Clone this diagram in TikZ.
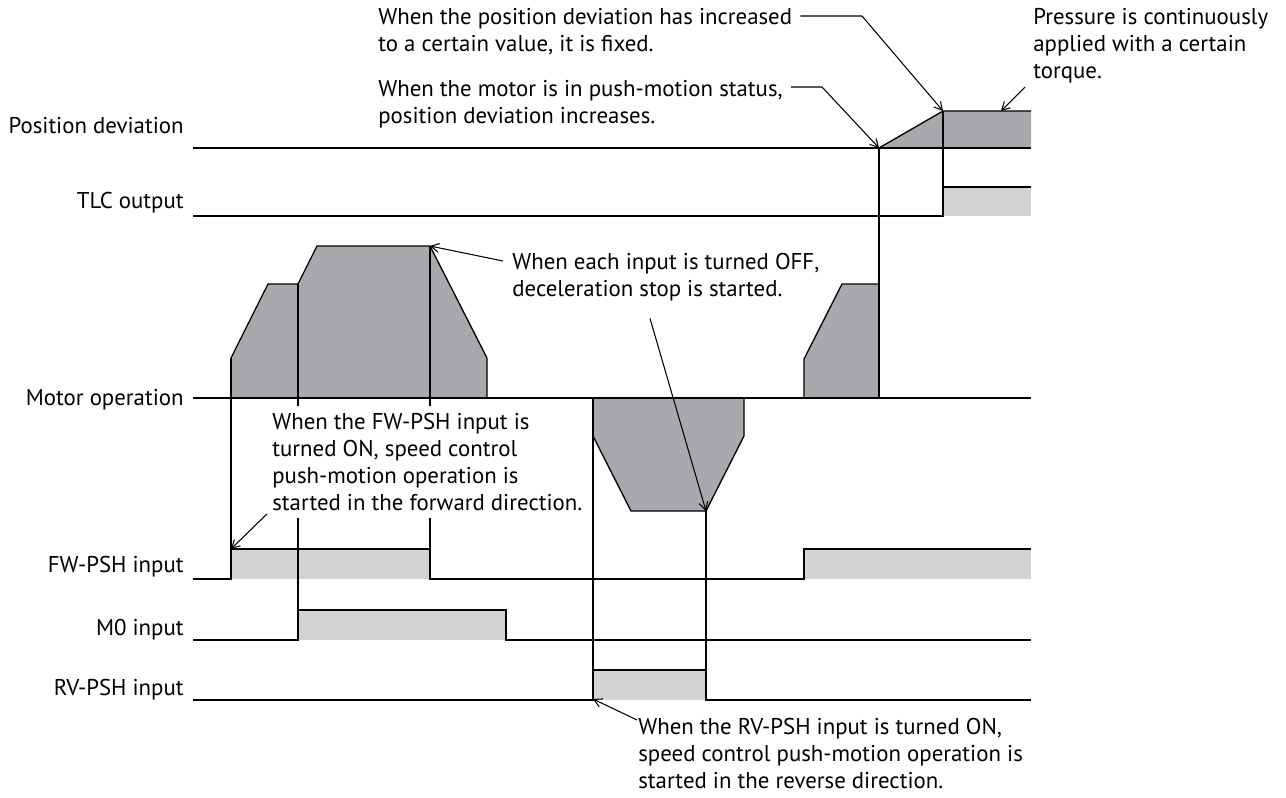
\documentclass[tikz,border=0pt]{standalone}
\usepackage{fontspec}
\setmainfont{PT Sans}
\definecolor{pgdark}{HTML}{A7A9AC}
\definecolor{pglight}{HTML}{D1D3D4}
\usetikzlibrary{arrows.meta,calc}

\begin{document}
\begin{tikzpicture}[x=0.02cm, y=-0.02cm,
  wave/.style={line width=0.75pt},
  vline/.style={line width=0.6pt},
  lead/.style={line width=0.6pt, -{Straight Barb[length=4.5pt,width=5pt]}},
  sig/.style={font=\fontsize{13}{15.3}\selectfont, anchor=base east, inner sep=0pt},
  note/.style={font=\fontsize{13}{15.3}\selectfont, align=left, anchor=north west, inner sep=0pt}]
  \useasboundingbox (0,0) rectangle (1286,798);

  %--- Signal names ---
  \node[sig] (lpos) at (184,133) {Position deviation};
  \node[sig] (ltlc) at (184,208) {TLC output};
  \node[sig] (lmot) at (184,405) {Motor operation};
  \node[sig] (lfw) at (184,572) {FW-PSH input};
  \node[sig] (lmz) at (184,635) {M0 input};
  \node[sig] (lrv) at (184,695) {RV-PSH input};

  % Key points
  \coordinate (pdstart) at (879,148);
  \coordinate (pdtop) at (943,111);
  \coordinate (pdhold) at (1001,111);
  \coordinate (mtop) at (430,246);
  \coordinate (rvbot) at (706,511);
  \coordinate (fwon) at (231,549);
  \coordinate (rvon) at (593,699);

  % Position deviation
  \fill[pgdark] (879,148) -- (943,111) -- (1031,111) -- (1031,148) -- cycle;
  \draw[wave] (193,148) -- (1031,148);
  \draw[wave] (879,148) -- (943,111) -- (1031,111);

  % TLC output
  \fill[pglight] (943,187) rectangle (1031,216);
  \draw[wave] (193,216) -- (943,216) -- (943,187) -- (1031,187);

  % Motor operation
  \filldraw[wave, fill=pgdark] (231,398) -- (231,358) -- (268,284) -- (298,284) -- (317,246)
    -- (430,246) -- (487,358) -- (487,398) -- cycle;
  \filldraw[wave, fill=pgdark] (593,398) -- (593,436) -- (631,511) -- (706,511) -- (744,436)
    -- (744,398) -- cycle;
  \filldraw[wave, fill=pgdark] (804,398) -- (804,359) -- (842,284) -- (879,284) -- (879,398) -- cycle;
  \draw[wave] (193,398) -- (1031,398);

  % FW-PSH input
  \fill[pglight] (231,549) rectangle (430,579);
  \fill[pglight] (804,549) rectangle (1031,579);
  \draw[wave] (193,579) -- (231,579) -- (231,549) -- (430,549) -- (430,579) -- (804,579)
    -- (804,549) -- (1031,549);

  % M0 input
  \fill[pglight] (298,610) rectangle (506,640);
  \draw[wave] (193,640) -- (298,640) -- (298,610) -- (506,610) -- (506,640) -- (1031,640);

  % RV-PSH input
  \fill[pglight] (593,670) rectangle (706,700);
  \draw[wave] (193,700) -- (593,700) -- (593,670) -- (706,670) -- (706,700) -- (1031,700);

  % Timing lines
  \draw[vline] (879,148) -- (879,398);
  \draw[vline] (943,111) -- (943,216);
  \draw[vline] (231,358) -- (231,579);
  \draw[vline] (298,284) -- (298,640);
  \draw[vline] (430,246) -- (430,579);
  \draw[vline] (593,398) -- (593,700);
  \draw[vline] (706,511) -- (706,700);

  %--- Notes ---
  \node[note] (nfix) at (378,8) {When the position deviation has increased\\to a certain value, it is fixed.};
  \node[note] (npush) at (378,80) {When the motor is in push-motion status,\\position deviation increases.};
  \node[note] (ntorq) at (1033,8) {Pressure is continuously\\applied with a certain\\torque.};
  \node[note] (noff) at (512,253) {When each input is turned OFF,\\deceleration stop is started.};
  \node[note, fill=white, inner sep=4pt] (nfw) at (265,406) {When the FW-PSH input is\\turned ON, speed control\\push-motion operation is\\started in the forward direction.};
  \node[note] (nrv) at (638,718) {When the RV-PSH input is turned ON,\\speed control push-motion operation is\\started in the reverse direction.};

  \coordinate (kfix) at (862,16);
  \coordinate (kpush) at (822,87);
  \draw[lead] ($(nfix.east |- kfix)+(8,0)$) -- (kfix) -- (pdtop);
  \draw[lead] ($(npush.east |- kpush)+(8,0)$) -- (kpush) -- (pdstart);
  \draw[lead] ($(ntorq.south west)+(-8,4)$) -- (pdhold);
  \draw[lead] ($(noff.north west)+(-9,8)$) -- (mtop);
  \draw[lead] ($(noff.south west)+(138,17)$) -- (rvbot);
  \draw[lead] ($(nfw.south west)+(2,-4)$) -- (fwon);
  \draw[lead] ($(nrv.north west)+(-1,2)$) -- (rvon);
\end{tikzpicture}
\end{document}
